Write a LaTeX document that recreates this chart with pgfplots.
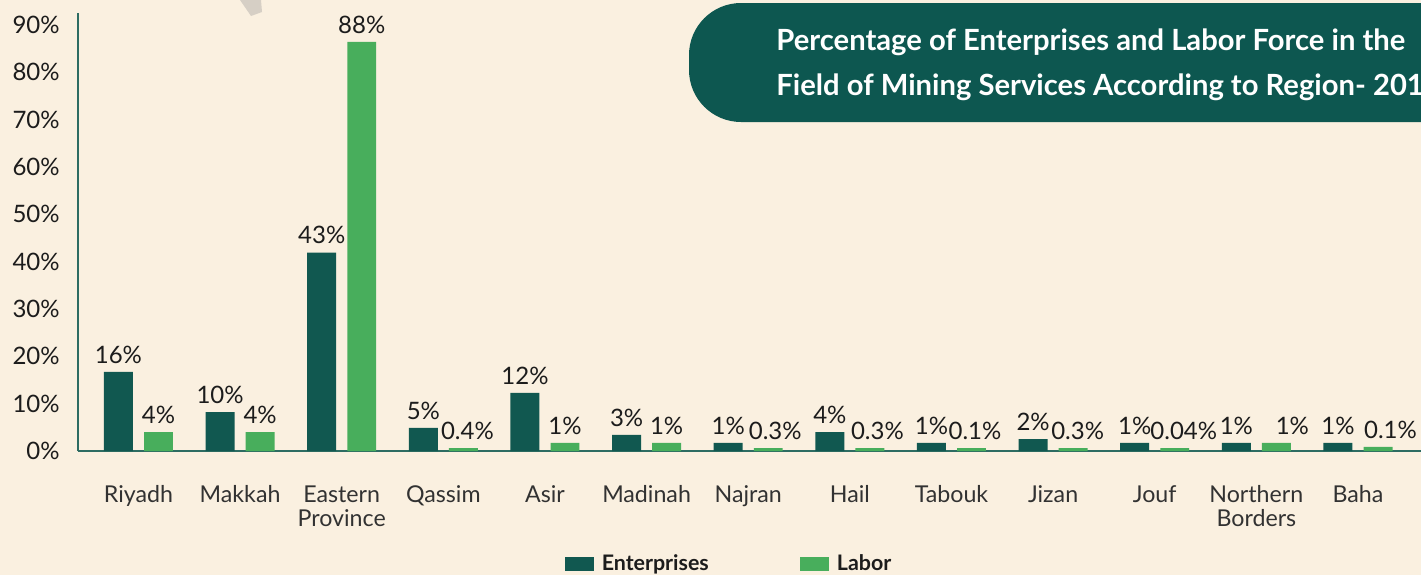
\documentclass[border=0pt]{standalone}
\usepackage{pgfplots}
\pgfplotsset{compat=1.18}
\usepackage{fontspec}
\setmainfont{Lato}
\definecolor{bgcream}{RGB}{250,240,224}
\definecolor{entgreen}{RGB}{17,88,80}
\definecolor{labgreen}{RGB}{72,174,92}
\definecolor{axisteal}{RGB}{45,108,98}
\definecolor{titlebox}{RGB}{13,87,80}
\definecolor{txtdark}{RGB}{28,28,28}
\definecolor{txtcat}{RGB}{50,50,50}
\definecolor{marksgray}{RGB}{214,207,197}

\begin{document}
\begin{tikzpicture}
% page in pixel units: 1px = 0.5pt, y measured upwards
\begin{scope}[x=0.5pt,y=0.5pt]
\clip (0,0) rectangle (1421,575);
\fill[bgcream] (0,0) rectangle (1421,575);
\fill[marksgray] (240,575) -- (261,575) -- (262,563) -- (251,559) -- cycle;
\fill[titlebox, rounded corners=26pt] (689,453) rectangle (1480,572);
\node[anchor=west, text=white, inner sep=0pt, font=\bfseries\fontsize{14.6}{17}\selectfont] at (776,533) {Percentage of Enterprises and Labor Force in the};
\node[anchor=west, text=white, inner sep=0pt, font=\bfseries\fontsize{14.6}{17}\selectfont] at (776,488) {Field of Mining Services According to Region- 2017};
\end{scope}

\begin{axis}[
  at={(39pt,62pt)}, anchor=south west,
  scale only axis, width=671.5pt, height=219pt,
  xmin=-0.595, xmax=12.62, ymin=0, ymax=92.5,
  clip=false,
  ybar,
  axis x line*=bottom, axis y line*=left,
  axis line style={axisteal, line width=0.8pt, -},
  major tick length=0pt,
  xtick={0,...,12},
  xticklabels={Riyadh, Makkah, {Eastern\\Province}, Qassim, Asir, Madinah, Najran, Hail, Tabouk, Jizan, Jouf, {Northern\\Borders}, Baha},
  xticklabel style={align=center, font=\fontsize{11.6}{12}\selectfont, text=txtcat, anchor=north, inner sep=0pt, yshift=-17pt},
  ytick={0,10,...,90},
  yticklabel={\pgfmathprintnumber{\tick}\%},
  /pgf/number format/assume math mode=true,
  yticklabel style={font=\fontsize{12}{14}\selectfont, text=txtdark, anchor=east, inner sep=0pt, xshift=-9pt},
  nodes near coords,
  point meta=explicit symbolic,
  every node near coord/.append style={font=\fontsize{12}{14}\selectfont, text=txtdark, inner sep=0pt, yshift=4pt},
  legend columns=2,
  legend style={at={(0.487,-0.258)}, anchor=center, draw=none, fill=none,
    font=\bfseries\fontsize{10.7}{12}\selectfont, text=txtdark,
    /tikz/every even column/.append style={column sep=41.5pt},
    nodes={inner sep=4pt}},
  legend image code/.code={\fill[#1] (0pt,-3.4pt) rectangle (14.5pt,3.4pt);},
]
\addplot[fill=entgreen, draw=none, bar width=0.285, bar shift=-0.197] coordinates {
 (0,16.7)[16\%] (1,8.2)[10\%] (2,41.9)[43\%] (3,4.9)[5\%] (4,12.3)[12\%]
 (5,3.4)[3\%] (6,1.7)[1\%] (7,4.0)[4\%] (8,1.7)[1\%] (9,2.5)[2\%]
 (10,1.7)[1\%] (11,1.7)[1\%] (12,1.7)[1\%]};
\addlegendentry{Enterprises}
% labels of the labor bars sit a little right of their bars in the original
\addplot[fill=labgreen, draw=none, bar width=0.285, bar shift=0.197] coordinates {
 (0,4.0)[4\%] (1,4.0)[4\%] (2,86.4)[88\%] (3,0.6)[\hspace{4pt}0.4\%] (4,1.7)[1\%]
 (5,1.7)[1\%] (6,0.6)[\hspace{7pt}0.3\%] (7,0.6)[\hspace{7.5pt}0.3\%] (8,0.6)[\hspace{3.5pt}0.1\%] (9,0.6)[\hspace{4.5pt}0.3\%]
 (10,0.6)[\hspace{9pt}0.04\%] (11,1.7)[\hspace{16pt}1\%] (12,0.85)[\hspace{12.5pt}0.1\%]};
\addlegendentry{Labor}
\end{axis}
\pgfresetboundingbox
\useasboundingbox (0,0) rectangle (710.5pt,287.5pt);
\end{tikzpicture}
\end{document}
